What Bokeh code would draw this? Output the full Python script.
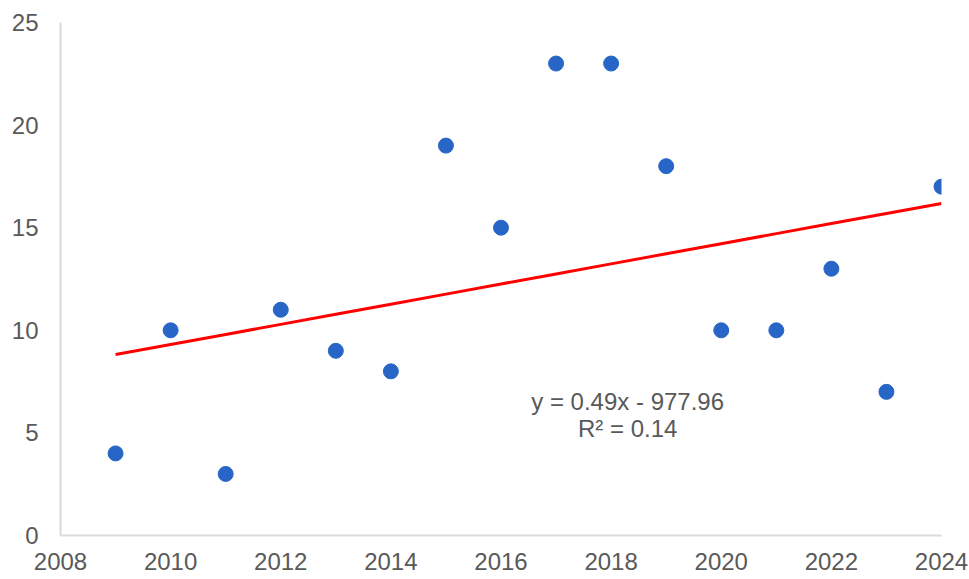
import numpy as np
from bokeh.plotting import figure
from bokeh.models import Range1d, Label, FixedTicker
from bokeh.embed import file_html
from bokeh.resources import INLINE

years = [2009, 2010, 2011, 2012, 2013, 2014, 2015, 2016,
         2017, 2018, 2019, 2020, 2021, 2022, 2023, 2024]
values = [4, 10, 3, 11, 9, 8, 19, 15, 23, 23, 18, 10, 10, 13, 7, 17]
x_ticks = [2008, 2010, 2012, 2014, 2016, 2018, 2020, 2022, 2024]
y_ticks = [0, 5, 10, 15, 20, 25]

FONT = "Liberation Sans"
TXT = "#595959"

p = figure(width=969, height=579, output_backend="svg", toolbar_location=None,
           x_range=Range1d(2008, 2024), y_range=Range1d(0, 25),
           min_border_left=60, min_border_right=28, min_border_top=22,
           min_border_bottom=44)
p.outline_line_color = None
p.grid.grid_line_color = None

for ax in (p.xaxis[0], p.yaxis[0]):
    ax.axis_line_color = "#D9D9D9"
    ax.axis_line_width = 2
    ax.major_tick_line_color = None
    ax.minor_tick_line_color = None
    ax.major_label_text_font = FONT
    ax.major_label_text_font_size = "24px"
    ax.major_label_text_color = TXT
p.xaxis[0].ticker = FixedTicker(ticks=x_ticks)
p.yaxis[0].ticker = FixedTicker(ticks=y_ticks)
p.xaxis[0].major_label_standoff = 11
p.yaxis[0].major_label_standoff = 16

xa = np.array(years, dtype=float)
ya = np.array(values, dtype=float)
slope, intercept = np.polyfit(xa, ya, 1)
pred = slope * xa + intercept
r2 = 1 - ((ya - pred) ** 2).sum() / ((ya - ya.mean()) ** 2).sum()

p.line(xa, pred, line_color="#FF0000", line_width=3)
p.scatter(years, values, size=15, fill_color="#2766C6", line_color="#2766C6")

sign = "-" if intercept < 0 else "+"
p.add_layout(Label(x=2018.3, y=6.55, text=f"y = {slope:.2f}x {sign} {abs(intercept):.2f}",
                   text_align="center", text_baseline="middle", text_font=FONT,
                   text_font_size="24px", text_color=TXT))
p.add_layout(Label(x=2018.3, y=5.2, text=f"R² = {r2:.2f}",
                   text_align="center", text_baseline="middle", text_font=FONT,
                   text_font_size="24px", text_color=TXT))

open("out.html", "w").write(file_html(p, INLINE))
